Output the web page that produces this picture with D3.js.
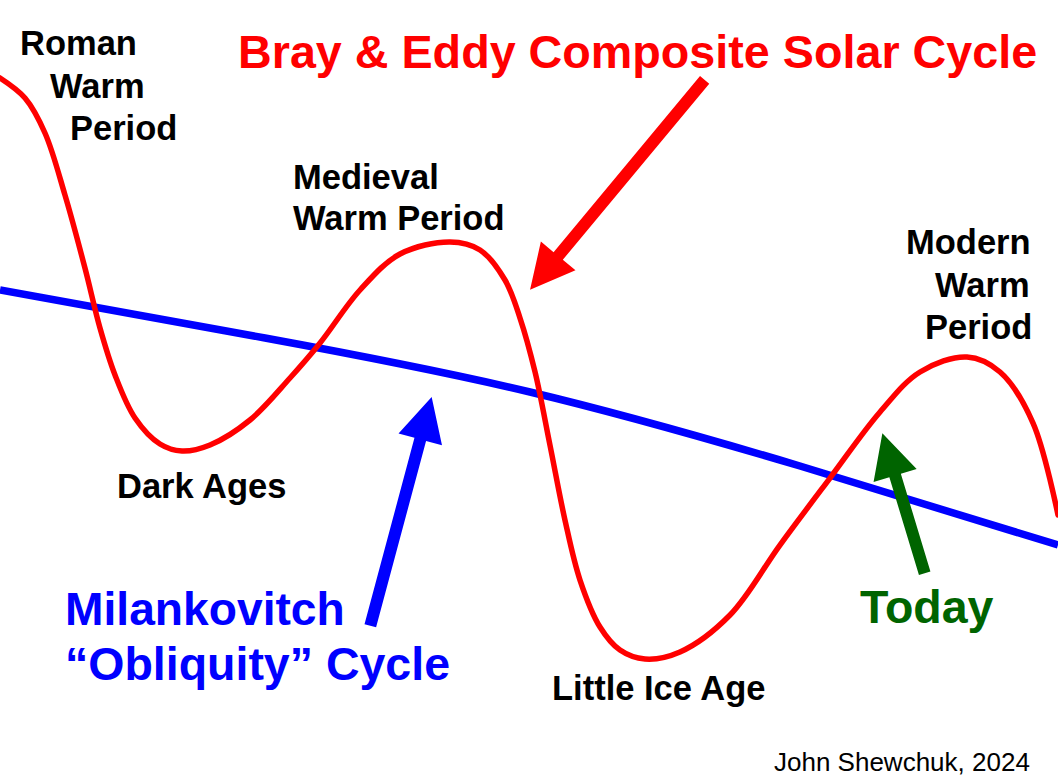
<!DOCTYPE html>
<html>
<head>
<meta charset="utf-8">
<script src="https://cdn.jsdelivr.net/npm/d3@7"></script>
<style>
  html, body { margin: 0; padding: 0; background: #fff; }
  svg { display: block; }
  text { font-family: "Liberation Sans", Arial, sans-serif; font-weight: bold; }
</style>
</head>
<body>
<svg id="chart" width="1058" height="784"></svg>
<script>
// ---- data (abstract time 0..100, abstract temperature index 0..100) ----
const solarT = [0, 2.36, 4.25, 6.14, 8.03, 9.45, 10.87, 12.76, 15.12, 17.2, 19.85, 23.63, 27.41, 30.25, 34.03, 37.81, 42.53, 45.37, 47.73, 49.15, 50.57, 51.98, 53.4, 54.82, 56.71, 58.6, 60.96, 64.27, 69.0, 73.72, 78.45, 83.18, 86.96, 91.4, 94.52, 97.64, 100];
const solarV = [88.86, 86.0, 81.0, 72.14, 61.71, 53.14, 46.43, 40.29, 36.57, 35.57, 36.43, 40.0, 46.0, 51.0, 58.57, 63.71, 65.43, 64.29, 60.0, 54.57, 46.86, 36.43, 25.71, 17.14, 10.43, 7.14, 5.86, 6.86, 12.14, 22.14, 31.71, 41.14, 46.86, 49.0, 46.86, 39.57, 26.43];

const obliqT = [0, 25.05, 50.09, 75.61, 100];
const obliqV = [58.57, 51.71, 44.0, 33.43, 22.14];

const labelText = ["Roman", "Warm", "Period", "Medieval", "Warm Period", "Dark Ages", "Little Ice Age", "Modern", "Warm", "Period"];
const titleText = "Bray & Eddy Composite Solar Cycle";
const milankText = ["Milankovitch", "\u201cObliquity\u201d Cycle"];
const todayText = "Today";
const creditText = "John Shewchuk, 2024";

// arrows: tail -> tip in data units
const arrowNames = ["solar", "obliquity", "today"];
const arrowTail = [[66.6, 88.6], [35.0, 10.6], [87.4, 18.1]];
const arrowTip = [[50.1, 58.6], [40.8, 43.3], [83.4, 38.1]];

// ---- drawing ----
const W = 1058, H = 784;
const svg = d3.select("#chart");
const x = d3.scaleLinear().domain([0, 100]).range([0, W]);
const y = d3.scaleLinear().domain([0, 100]).range([700, 0]);

const solar = solarT.map((t, i) => ({t, v: solarV[i]}));
const obliq = obliqT.map((t, i) => ({t, v: obliqV[i]}));

const line = d3.line().x(d => x(d.t)).y(d => y(d.v));

svg.append("path")
  .datum(obliq)
  .attr("d", line.curve(d3.curveNatural))
  .attr("fill", "none")
  .attr("stroke", "#0000ff")
  .attr("stroke-width", 7.5);

svg.append("path")
  .datum(solar)
  .attr("d", line.curve(d3.curveCatmullRom.alpha(0.5)))
  .attr("fill", "none")
  .attr("stroke", "#ff0000")
  .attr("stroke-width", 5.5)
  .attr("stroke-linecap", "round")
  .attr("stroke-linejoin", "round");

// arrows
const arrowColor = {solar: "#ff0000", obliquity: "#0000ff", today: "#006400"};
function arrowPoly(tail, tip, w, hw, hl) {
  const T = [x(tail[0]), y(tail[1])], P = [x(tip[0]), y(tip[1])];
  const dx = P[0] - T[0], dy = P[1] - T[1], L = Math.hypot(dx, dy);
  const u = [dx / L, dy / L], n = [-u[1], u[0]];
  const B = [P[0] - u[0] * hl, P[1] - u[1] * hl];
  const pt = (o, k) => [o[0] + n[0] * k, o[1] + n[1] * k];
  return [pt(T, w / 2), pt(B, w / 2), pt(B, hw / 2), P, pt(B, -hw / 2), pt(B, -w / 2), pt(T, -w / 2)];
}
arrowNames.forEach((name, i) => {
  svg.append("polygon")
    .attr("points", arrowPoly(arrowTail[i], arrowTip[i], 12, 45, 44).map(p => p.join(",")).join(" "))
    .attr("fill", arrowColor[name]);
});

// labels
const labelPos = [[20, 55], [50, 98], [70, 140], [293, 189], [293, 230], [117, 498], [552, 700], [906, 254], [935, 297], [925, 339]];
labelText.forEach((t, i) => {
  svg.append("text")
    .attr("x", labelPos[i][0]).attr("y", labelPos[i][1])
    .attr("font-size", 34.5)
    .attr("fill", "#000")
    .text(t);
});

svg.append("text")
  .attr("x", 238).attr("y", 68)
  .attr("font-size", 46.7)
  .attr("fill", "#ff0000")
  .text(titleText);

svg.append("text")
  .attr("x", 65).attr("y", 625)
  .attr("font-size", 46.2)
  .attr("fill", "#0000ff")
  .text(milankText[0]);
svg.append("text")
  .attr("x", 65).attr("y", 680)
  .attr("font-size", 46.5)
  .attr("fill", "#0000ff")
  .text(milankText[1]);

svg.append("text")
  .attr("x", 860).attr("y", 623)
  .attr("font-size", 46.5)
  .attr("fill", "#006400")
  .text(todayText);

svg.append("text")
  .attr("x", 774).attr("y", 771)
  .attr("font-size", 26)
  .style("font-weight", "normal")
  .attr("fill", "#000")
  .text(creditText);
</script>
</body>
</html>
